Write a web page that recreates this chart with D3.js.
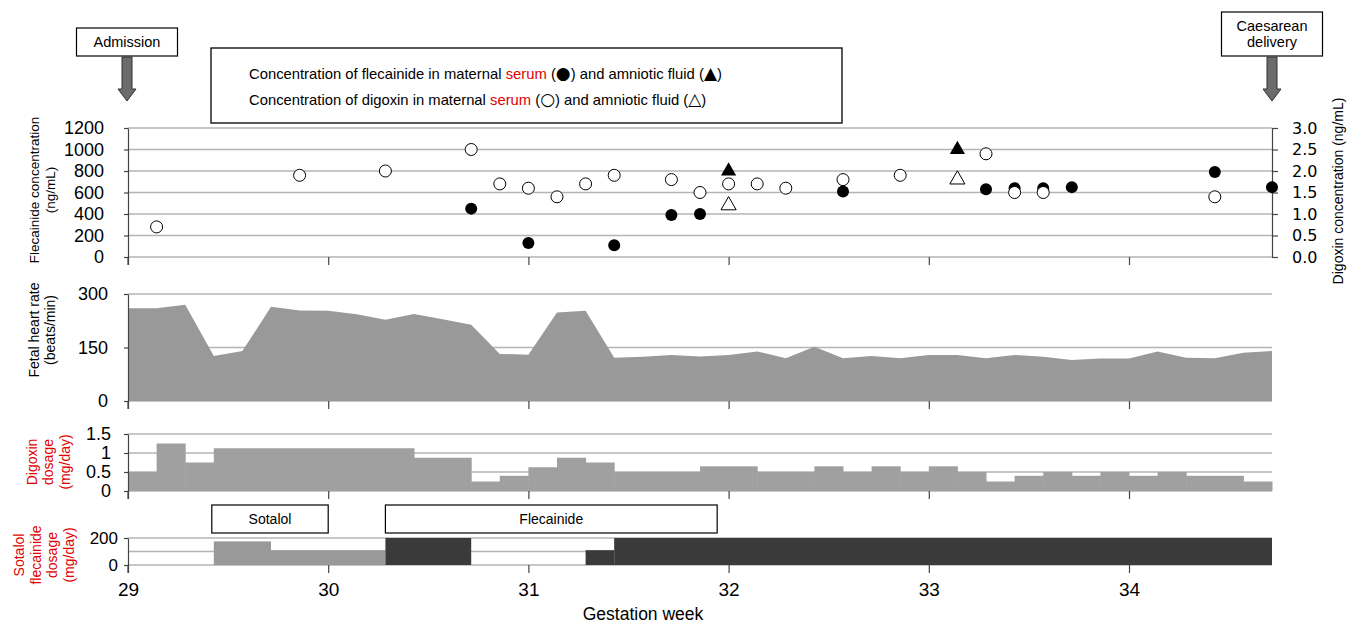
<!DOCTYPE html>
<html lang="en">
<head>
<meta charset="UTF-8">
<title>Gestation week course</title>
<script src="https://d3js.org/d3.v7.min.js"></script>
<style>
    body { margin: 0; background: #fff; }
    svg { display: block; font-family: "Liberation Sans", Arial, sans-serif; }
    .grid line { stroke: #b4b4b4; stroke-width: 1.3; }
    .axis path, .axis line { stroke: #444; stroke-width: 1.2; }
    .axis text { fill: #000; }
</style>
</head>
<body>
<svg width="1355" height="625"></svg>
<script>
    // days counted from the start of week 29
    const startWeek = 29;
    const totalDays = 40;
    const weekTicks = [29, 30, 31, 32, 33, 34];

    // flecainide, maternal serum (ng/mL)
    const flecSerumDays = [12, 14, 17, 19, 20, 25, 30, 31, 32, 33, 38, 40];
    const flecSerum = [450, 130, 110, 390, 400, 610, 630, 640, 640, 650, 790, 650];
    // flecainide, amniotic fluid (ng/mL)
    const flecAmnioDays = [21, 29];
    const flecAmnio = [800, 1000];
    // digoxin, maternal serum (ng/mL)
    const digSerumDays = [1, 6, 9, 12, 13, 14, 15, 16, 17, 19, 20, 21, 22, 23, 25, 27, 30, 31, 32, 38];
    const digSerum = [0.7, 1.9, 2.0, 2.5, 1.7, 1.6, 1.4, 1.7, 1.9, 1.8, 1.5, 1.7, 1.7, 1.6, 1.8, 1.9, 2.4, 1.5, 1.5, 1.4];
    // digoxin, amniotic fluid (ng/mL)
    const digAmnioDays = [21, 29];
    const digAmnio = [1.2, 1.8];

    // fetal heart rate, one value per day (beats/min)
    const heartRate = [260, 260, 270, 126, 140, 264, 254, 253, 243, 228, 244, 229, 214, 132, 130, 248, 253, 121, 124, 129, 125,
        129, 139, 120, 152, 120, 126, 120, 129, 129, 120, 129, 124, 115, 119, 119, 139, 121, 120, 135, 140];

    // digoxin dosage steps (mg/day), each lasts until the next start
    const digDoseStart = [0, 1, 2, 3, 10, 12, 13, 14, 15, 16, 17, 20, 22, 24, 25, 26, 27, 28, 29, 30, 31, 32, 33, 34, 35, 36, 37, 39];
    const digDose = [0.5, 1.25, 0.75, 1.125, 0.875, 0.25, 0.4, 0.625, 0.875, 0.75, 0.5, 0.65, 0.5, 0.65, 0.5, 0.65, 0.5, 0.65, 0.5, 0.25, 0.4, 0.5, 0.4, 0.5, 0.4, 0.5, 0.4, 0.25];

    // sotalol / flecainide dosage (mg/day)
    const sotalolStart = [3, 5];
    const sotalolEnd = [5, 9];
    const sotalolDose = [175, 110];
    const flecDoseStart = [9, 16, 17];
    const flecDoseEnd = [12, 17, 40];
    const flecDose = [200, 110, 200];

    // treatment label boxes (days)
    const drugNames = ["Sotalol", "Flecainide"];
    const drugFrom = [2.93, 9];
    const drugTo = [7, 20.6];

    const svg = d3.select("svg");
    const week = d => startWeek + d / 7;

    const x = d3.scaleLinear()
        .domain([startWeek, week(totalDays)])
        .range([128, 1272]);

    // y scales, one per panel
    const yFlec = d3.scaleLinear().domain([0, 1200]).range([257, 128]);
    const yDig = d3.scaleLinear().domain([0, 3]).range([257, 128]);
    const yHr = d3.scaleLinear().domain([0, 300]).range([401, 294]);
    const yDose = d3.scaleLinear().domain([0, 1.5]).range([491, 434]);
    const ySot = d3.scaleLinear().domain([0, 200]).range([565, 538]);

    function grid(y, values) {
        svg.append("g").attr("class", "grid")
            .selectAll("line").data(values).join("line")
            .attr("x1", x.range()[0]).attr("x2", x.range()[1])
            .attr("y1", d => y(d)).attr("y2", d => y(d));
    }

    function leftAxis(y, values, fmt, pad) {
        const g = svg.append("g").attr("class", "axis")
            .attr("transform", `translate(${x.range()[0]},0)`)
            .call(d3.axisLeft(y).tickValues(values).tickFormat(fmt).tickSize(4).tickPadding(pad).tickSizeOuter(0));
        g.selectAll("text").attr("font-size", 18).attr("font-family", null);
        return g;
    }

    function bottomTicks(y0, labels) {
        const g = svg.append("g").attr("class", "axis")
            .attr("transform", `translate(0,${y0})`)
            .call(d3.axisBottom(x).tickValues(weekTicks).tickSize(8).tickPadding(10)
                .tickFormat(labels ? d3.format("d") : ""));
        g.select(".domain").remove();
        g.selectAll("text").attr("font-size", 19).attr("font-family", null);
        // left axis line runs down to the tick length
        svg.append("line").attr("x1", x.range()[0]).attr("x2", x.range()[0])
            .attr("y1", y0).attr("y2", y0 + 8).attr("stroke", "#444").attr("stroke-width", 1.2);
    }

    // ---- panel 1: concentrations ----
    grid(yFlec, d3.range(0, 1201, 200));
    leftAxis(yFlec, d3.range(0, 1201, 200), d3.format("d"), 20);
    const ra = svg.append("g").attr("class", "axis")
        .attr("transform", `translate(${x.range()[1]},0)`)
        .call(d3.axisRight(yDig).tickValues(d3.range(0, 3.01, 0.5)).tickFormat(d3.format(".1f")).tickSize(6).tickPadding(14).tickSizeOuter(0));
    ra.selectAll("text").attr("font-size", 16).attr("font-family", "DejaVu Sans, Verdana, sans-serif");
    bottomTicks(257, false);

    svg.append("g").selectAll("circle")
        .data(flecSerumDays.map((d, i) => [d, flecSerum[i]])).join("circle")
        .attr("cx", d => x(week(d[0]))).attr("cy", d => yFlec(d[1])).attr("r", 6)
        .attr("fill", "#000");

    svg.append("g").selectAll("circle")
        .data(digSerumDays.map((d, i) => [d, digSerum[i]])).join("circle")
        .attr("cx", d => x(week(d[0]))).attr("cy", d => yDig(d[1])).attr("r", 6)
        .attr("fill", "#fff").attr("stroke", "#000").attr("stroke-width", 1);

    const tri = d3.symbol(d3.symbolTriangle, 100);
    svg.append("g").selectAll("path")
        .data(flecAmnioDays.map((d, i) => [d, flecAmnio[i]])).join("path")
        .attr("d", tri)
        .attr("transform", d => `translate(${x(week(d[0]))},${yFlec(d[1])})`)
        .attr("fill", "#000");
    svg.append("g").selectAll("path")
        .data(digAmnioDays.map((d, i) => [d, digAmnio[i]])).join("path")
        .attr("d", tri)
        .attr("transform", d => `translate(${x(week(d[0]))},${yDig(d[1])})`)
        .attr("fill", "#fff").attr("stroke", "#000").attr("stroke-width", 1);

    // ---- panel 2: fetal heart rate ----
    grid(yHr, [0, 150, 300]);
    const area = d3.area()
        .x((d, i) => x(week(i)))
        .y0(yHr(0))
        .y1(d => yHr(d));
    svg.append("path").datum(heartRate).attr("d", area).attr("fill", "#999");
    leftAxis(yHr, [0, 150, 300], d3.format("d"), 16);
    bottomTicks(401, false);

    // ---- panel 3: digoxin dosage ----
    grid(yDose, [0, 0.5, 1, 1.5]);
    svg.append("g").selectAll("rect")
        .data(digDoseStart.map((d, i) => ({ s: d, e: i + 1 < digDoseStart.length ? digDoseStart[i + 1] : totalDays, v: digDose[i] })))
        .join("rect")
        .attr("x", d => x(week(d.s))).attr("width", d => x(week(d.e)) - x(week(d.s)) + 0.5)
        .attr("y", d => yDose(d.v)).attr("height", d => yDose(0) - yDose(d.v))
        .attr("fill", "#a0a0a0");
    leftAxis(yDose, [0, 0.5, 1, 1.5], d => d === 1 ? "1" : (d === 0 ? "0" : d3.format(".1f")(d)), 13);
    bottomTicks(491, false);

    // ---- panel 4: sotalol / flecainide dosage ----
    grid(ySot, [0, 100, 200]);
    svg.append("g").selectAll("rect")
        .data(sotalolStart.map((d, i) => ({ s: d, e: sotalolEnd[i], v: sotalolDose[i] })))
        .join("rect")
        .attr("x", d => x(week(d.s))).attr("width", d => x(week(d.e)) - x(week(d.s)))
        .attr("y", d => ySot(d.v)).attr("height", d => ySot(0) - ySot(d.v))
        .attr("fill", "#999");
    svg.append("g").selectAll("rect")
        .data(flecDoseStart.map((d, i) => ({ s: d, e: flecDoseEnd[i], v: flecDose[i] })))
        .join("rect")
        .attr("x", d => x(week(d.s))).attr("width", d => x(week(d.e)) - x(week(d.s)))
        .attr("y", d => ySot(d.v)).attr("height", d => ySot(0) - ySot(d.v))
        .attr("fill", "#3a3a3a");
    const a4 = leftAxis(ySot, [0, 200], d3.format("d"), 6);
    a4.selectAll("text").attr("font-size", 17);
    bottomTicks(565, true);

    svg.append("text").attr("x", 643).attr("y", 620).attr("text-anchor", "middle")
        .attr("font-size", 17.5).text("Gestation week");

    // treatment boxes
    const boxes = svg.append("g").selectAll("g").data(drugNames).join("g");
    boxes.append("rect")
        .attr("x", (d, i) => x(week(drugFrom[i]))).attr("y", 505)
        .attr("width", (d, i) => x(week(drugTo[i])) - x(week(drugFrom[i]))).attr("height", 28)
        .attr("fill", "#fff").attr("stroke", "#000").attr("stroke-width", 1.2);
    boxes.append("text")
        .attr("x", (d, i) => (x(week(drugFrom[i])) + x(week(drugTo[i]))) / 2).attr("y", 524)
        .attr("text-anchor", "middle").attr("font-size", 14).text(d => d);

    // axis titles
    function vtitle(cx, cy, lines, color, size) {
        const t = svg.append("text")
            .attr("transform", `translate(${cx},${cy}) rotate(-90)`)
            .attr("text-anchor", "middle").attr("font-size", size || 13)
            .attr("fill", color || "#000");
        const n = lines.length;
        lines.forEach((l, i) => {
            t.append("tspan").attr("x", 0).attr("y", (i - (n - 1) / 2) * 16.5 + 5).text(l);
        });
    }
    vtitle(42, 190, ["Flecainide concentration", "(ng/mL)"], "#000", 13.5);
    vtitle(42, 330, ["Fetal heart rate", "(beats/min)"], "#000", 14);
    vtitle(48, 462, ["Digoxin", "dosage", "(mg/day)"], "#e00000", 14);
    vtitle(44, 555, ["Sotalol", "flecainide", "dosage", "(mg/day)"], "#e00000", 14);
    svg.append("text")
        .attr("transform", "translate(1343,191) rotate(-90)")
        .attr("text-anchor", "middle").attr("font-size", 14)
        .text("Digoxin concentration (ng/mL)");

    // legend box
    svg.append("rect").attr("x", 211).attr("y", 48).attr("width", 631).attr("height", 75)
        .attr("fill", "#fff").attr("stroke", "#000").attr("stroke-width", 1.3);
    const leg = [
        ["Concentration of flecainide in maternal ", "serum", " (", "\u25CF", ") and amniotic fluid (", "\u25B2", ")"],
        ["Concentration of digoxin in maternal ", "serum", " (", "\u25CB", ") and amniotic fluid (", "\u25B3", ")"]
    ];
    leg.forEach((parts, i) => {
        const t = svg.append("text").attr("x", 249).attr("y", 79 + i * 26).attr("font-size", 14.8);
        parts.forEach((p, j) => {
            const s = t.append("tspan").attr("fill", j === 1 ? "#e00000" : "#000").text(p);
            if (j === 3 || j === 5) s.attr("font-size", 17).attr("font-family", "DejaVu Sans, sans-serif");
        });
    });

    // event arrows
    function event(cx, lines) {
        const w = 101, h = lines.length * 16 + 12;
        svg.append("rect").attr("x", cx - w / 2).attr("y", 56 - h).attr("width", w).attr("height", h)
            .attr("fill", "#fff").attr("stroke", "#000").attr("stroke-width", 1.2);
        lines.forEach((l, i) => svg.append("text").attr("x", cx).attr("y", 56 - h + 19 + i * 16)
            .attr("text-anchor", "middle").attr("font-size", 14.5).text(l));
        const p = d3.path();
        p.moveTo(cx - 5, 57); p.lineTo(cx + 5, 57); p.lineTo(cx + 5, 89); p.lineTo(cx + 9, 89);
        p.lineTo(cx, 101); p.lineTo(cx - 9, 89); p.lineTo(cx - 5, 89); p.closePath();
        svg.append("path").attr("d", p.toString()).attr("fill", "#6b6b6b").attr("stroke", "#333").attr("stroke-width", 1);
    }
    event(127, ["Admission"]);
    event(1272, ["Caesarean", "delivery"]);
</script>
</body>
</html>
